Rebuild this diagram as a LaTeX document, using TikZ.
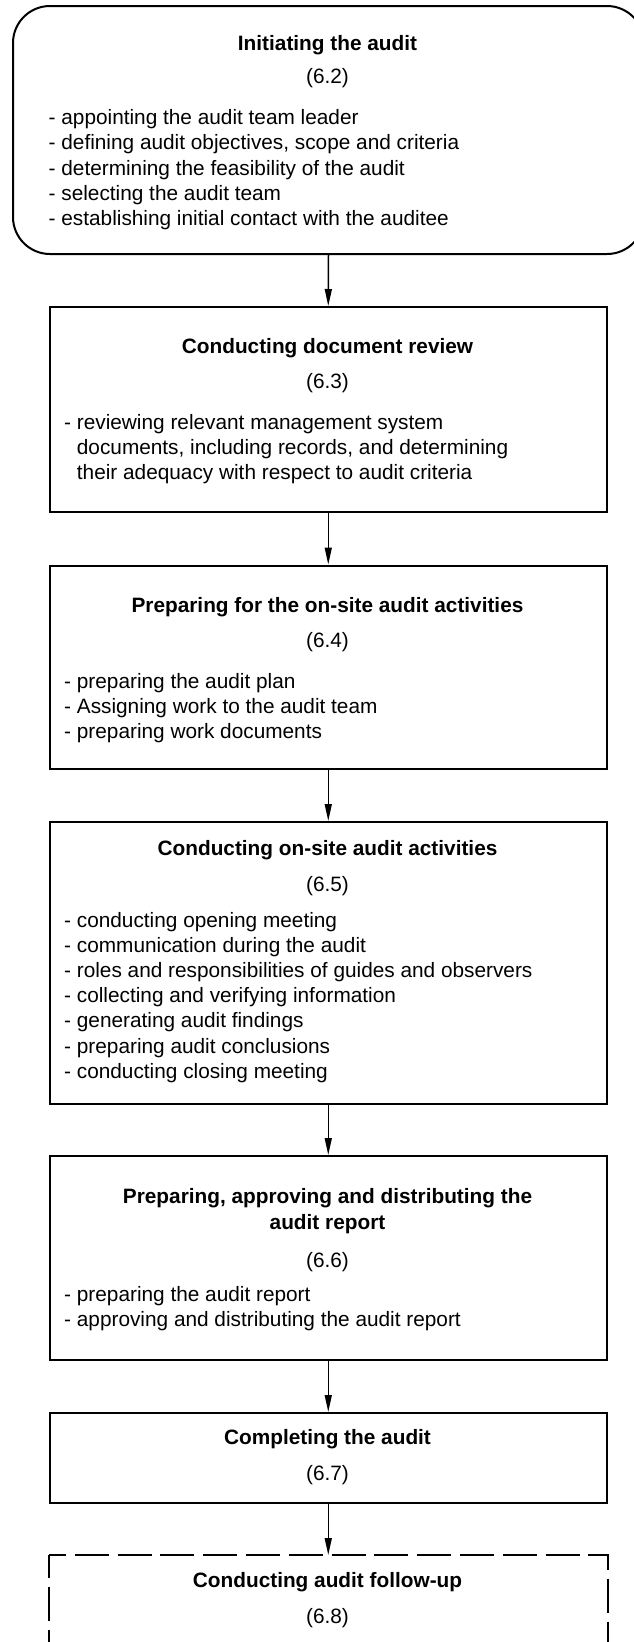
\documentclass[tikz,border=0pt]{standalone}
\usepackage{fontspec}
\setmainfont{Liberation Sans}
\usetikzlibrary{arrows.meta}
\begin{document}
\begin{tikzpicture}[x=1pt,y=-1pt,
  box/.style={draw, line width=2pt, inner sep=0pt, rectangle},
  ttl/.style={anchor=base, inner sep=0pt, font=\fontsize{20.8}{25.2}\selectfont\bfseries},
  num/.style={anchor=base, inner sep=0pt, font=\fontsize{20.8}{25.2}\selectfont},
  itm/.style={anchor=base west, inner sep=0pt, font=\fontsize{20.8}{25.2}\selectfont},
  arr/.style={line width=1.5pt, -{Triangle[length=17pt,width=7pt]}},
  dashline/.style={line width=2pt, dash pattern=on 34pt off 8.8pt},
]
\useasboundingbox (0,0) rectangle (634,1642);

% boxes
\node[box, rounded corners=37pt, minimum width=631pt, minimum height=248pt] (b1) at (328.5,130) {};
\node[box, minimum width=556.5pt, minimum height=204.5pt] (b2) at (328.25,409.25) {};
\node[box, minimum width=556.5pt, minimum height=203.5pt] (b3) at (328.25,667.25) {};
\node[box, minimum width=556.5pt, minimum height=282pt] (b4) at (328.25,963) {};
\node[box, minimum width=556.5pt, minimum height=204pt] (b5) at (328.25,1258) {};
\node[box, minimum width=556.5pt, minimum height=90pt] (b6) at (328.25,1458) {};
\node[box, draw=none, minimum width=556.5pt, minimum height=144pt] (b7) at (328.25,1628) {};
\draw[dashline, dash phase=17pt] (b7.north west) -- (b7.north east) -- (b7.south east);
\draw[dashline, dash phase=11pt] (b7.north west) -- (b7.south west);

% arrows
\draw[arr] (b1.south) -- (b2.north);
\draw[arr] (b2.south) -- (b3.north);
\draw[arr] (b3.south) -- (b4.north);
\draw[arr] (b4.south) -- (b5.north);
\draw[arr] (b5.south) -- (b6.north);
\draw[arr] (b6.south) -- (b7.north);

% box 1
\node[ttl] (t1) at (327.5,50) {Initiating the audit};
\node[num] (n1) at (327.5,83.5) {(6.2)};
\foreach \t [count=\i] in {- appointing the audit team leader,
  {- defining audit objectives, scope and criteria},
  - determining the feasibility of the audit,
  - selecting the audit team,
  - establishing initial contact with the auditee}
  \node[itm] (l1-\i) at (48.5,{124.6+(\i-1)*25.2}) {\t};

% box 2
\node[ttl] (t2) at (327.5,353.9) {Conducting document review};
\node[num] (n2) at (327.5,388.5) {(6.3)};
\foreach \t [count=\i] in {- reviewing relevant management system,
  {\phantom{- }documents, including records, and determining},
  \phantom{- }their adequacy with respect to audit criteria}
  \node[itm] (l2-\i) at (64,{429.3+(\i-1)*25.2}) {\t};

% box 3
\node[ttl] (t3) at (327.5,612.7) {Preparing for the on-site audit activities};
\node[num] (n3) at (327.5,647.5) {(6.4)};
\foreach \t [count=\i] in {- preparing the audit plan,
  - Assigning work to the audit team,
  - preparing work documents}
  \node[itm] (l3-\i) at (64,{688+(\i-1)*25.2}) {\t};

% box 4
\node[ttl] (t4) at (327.5,855.9) {Conducting on-site audit activities};
\node[num] (n4) at (327.5,891.2) {(6.5)};
\foreach \t [count=\i] in {- conducting opening meeting,
  - communication during the audit,
  - roles and responsibilities of guides and observers,
  - collecting and verifying information,
  - generating audit findings,
  - preparing audit conclusions,
  - conducting closing meeting}
  \node[itm] (l4-\i) at (64,{927.1+(\i-1)*25.2}) {\t};

% box 5
\node[ttl] (t5a) at (327.5,1203.8) {Preparing, approving and distributing the};
\node[ttl] (t5b) at (327.5,1229) {audit report};
\node[num] (n5) at (327.5,1267.7) {(6.6)};
\foreach \t [count=\i] in {- preparing the audit report,
  - approving and distributing the audit report}
  \node[itm] (l5-\i) at (64,{1301.3+(\i-1)*25.2}) {\t};

% box 6
\node[ttl] (t6) at (327.5,1444.9) {Completing the audit};
\node[num] (n6) at (327.5,1480.5) {(6.7)};

% box 7
\node[ttl] (t7) at (327.5,1587.4) {Conducting audit follow-up};
\node[num] (n7) at (327.5,1623) {(6.8)};
\end{tikzpicture}
\end{document}
